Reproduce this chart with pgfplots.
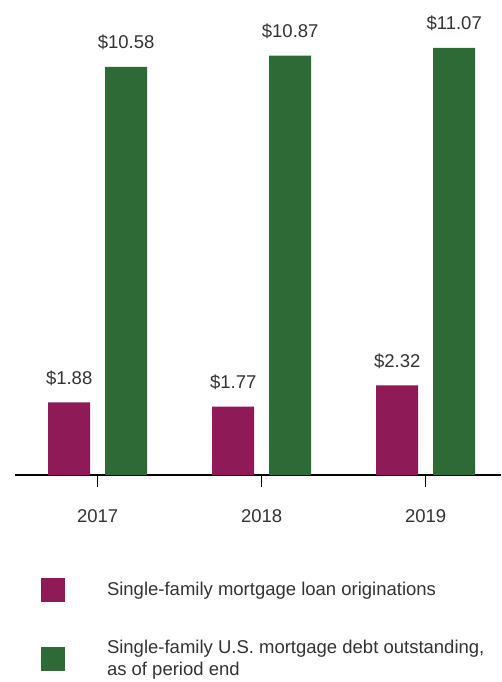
\documentclass[border=0pt]{standalone}
\usepackage{pgfplots}
\pgfplotsset{compat=1.18}
\usepackage{fontspec}
\setmainfont{Liberation Sans}
\definecolor{purp}{HTML}{8E1A58}
\definecolor{grn}{HTML}{2D6A35}
\definecolor{txt}{HTML}{333333}
\begin{document}
\begin{tikzpicture}
\useasboundingbox (0,0) rectangle (501pt,682pt);
\begin{axis}[
  at={(15pt,207pt)}, anchor=south west,
  scale only axis, width=486pt, height=463pt,
  xmin=-0.504, xmax=2.459, ymin=0, ymax=12,
  axis y line=none, axis x line*=bottom,
  x axis line style={-, black, line width=1.5pt},
  xtick={0,1,2}, xticklabels={2017,2018,2019},
  tick align=outside, major tick length=12pt,
  xtick style={black, line width=1pt},
  xticklabel style={anchor=base, yshift=-36pt, inner sep=0pt, text=txt},
  ytick=\empty,
  clip=false,
  font=\fontsize{18.5pt}{22pt}\selectfont,
  ybar, bar width=42pt,
  nodes near coords={\$\pgfmathprintnumber[fixed,fixed zerofill,precision=2]{\pgfplotspointmeta}},
  nodes near coords style={anchor=base, yshift=18pt, inner sep=0pt, text=txt},
  /pgf/number format/assume math mode=true,
  legend cell align=left,
  legend image code/.code={\fill[#1] (0pt,-12pt) rectangle (24pt,12pt);},
  legend style={at={(0.0535,-0.2225)}, anchor=north west, draw=none, fill=none,
    inner sep=0pt, outer sep=0pt, nodes={inner sep=0pt, text=txt},
    row sep=44.5pt, column sep=42pt,
    font=\fontsize{18.5pt}{22pt}\selectfont},
]
\addplot[fill=purp, draw=none, bar shift=-28.5pt] coordinates {(0,1.88) (1,1.77) (2,2.32)};
\addlegendentry{\raisebox{0pt}[12pt][12pt]{Single-family mortgage loan originations}}
\addplot[fill=grn, draw=none, bar shift=28.5pt] coordinates {(0,10.58) (1,10.87) (2,11.07)};
\addlegendentry{\raisebox{10.5pt}[12pt][12pt]{\begin{tabular}[t]{@{}l@{}}Single-family U.S. mortgage debt outstanding,\\as of period end\end{tabular}}}
\end{axis}
\end{tikzpicture}
\end{document}
